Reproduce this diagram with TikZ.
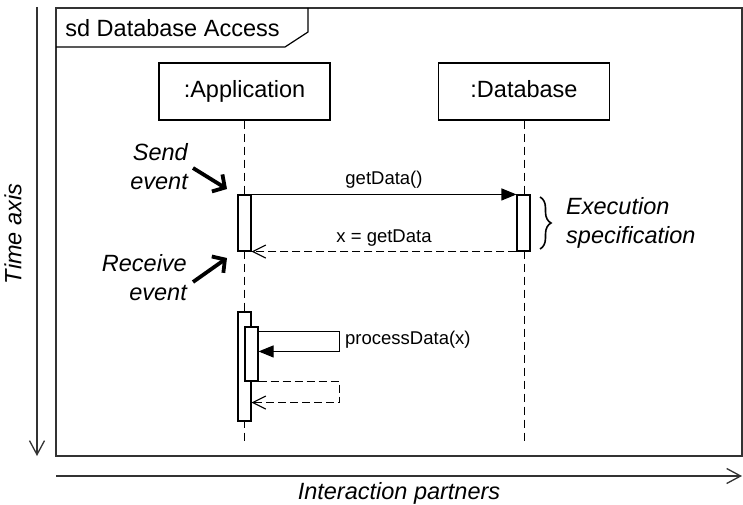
\documentclass[tikz,border=0pt]{standalone}
\usepackage{fontspec}
\setmainfont{Liberation Sans}
\usetikzlibrary{arrows.meta,decorations.pathreplacing}
\begin{document}
\begin{tikzpicture}[x=1pt,y=-1pt,
  big/.style={font=\fontsize{23.5}{28}\selectfont},
  small/.style={font=\fontsize{18.5}{22}\selectfont},
  lifebox/.style={draw, line width=1.1pt, minimum width=171pt, minimum height=57pt, inner sep=0pt, big, text height=17pt, text depth=5pt},
  lifeline/.style={line width=1pt, dash pattern=on 8pt off 5pt},
  actbar/.style={draw, fill=white, line width=1.1pt, minimum width=13pt, inner sep=0pt},
  sync/.style={line width=1.1pt, -{Triangle[length=15pt,width=12pt]}},
  reply/.style={line width=1.1pt, dash pattern=on 8pt off 4pt, -{Straight Barb[length=13pt,width=13pt]}},
  frm/.style={line width=1.8pt, black!80},
  axis/.style={line width=1.3pt, black!80, -{Straight Barb[length=14pt,width=15pt]}},
  evarrow/.style={line width=3.8pt, -{Straight Barb[length=9pt,width=20pt]}},
  note/.style={big, font=\fontsize{23.5}{29}\selectfont\itshape, inner sep=0pt}
]
\useasboundingbox (0,0) rectangle (743,505);

% frame
\draw[frm] (56,8) rectangle (742,456);
\draw[line width=1.2pt] (56,47) -- (285,47) -- (308,32) -- (308,8);
\node[big, inner sep=0pt] (title) at (172.5,28) {sd Database Access};

% axes
\coordinate (ttop) at (37,7);
\coordinate (tbot) at (37,456);
\draw[axis] (ttop) -- (tbot);
\node[note, rotate=90] (timelbl) at (13,234) {Time axis};
\coordinate (hl) at (56,476);
\coordinate (hr) at (742,476);
\draw[axis] (hl) -- (hr);
\node[note] (ilbl) at (399,493) {Interaction partners};

% lifelines
\node[lifebox] (app) at (244.5,91.5) {:Application};
\node[lifebox] (db) at (524,91.5) {:Database};
\coordinate (append) at (244.5,442);
\coordinate (dbend) at (524,442);
\draw[lifeline] (app.south) -- (append);
\draw[lifeline] (db.south) -- (dbend);

% activations
\node[actbar, minimum height=56pt] (a1) at (244.5,223) {};
\node[actbar, minimum height=56pt] (d1) at (523.5,223) {};
\node[actbar, minimum height=109pt] (a2) at (244.5,366.5) {};
\node[actbar, minimum height=54pt] (a3) at (251.5,354) {};

% messages
\draw[sync] (a1.north east) -- (d1.north west) node[midway, above, small, yshift=2pt] (m1) {getData()};
\draw[reply] (d1.south west) -- (a1.south east) node[midway, above, small, yshift=1pt] (m2) {x = getData};

\draw[sync] ([yshift=-5pt]a3.north east) -- ++(81,0) coordinate (sc1) -- ++(0,20) coordinate (sc2) -- ([yshift=-25pt]a3.north east);
\node[small, anchor=west, inner sep=0pt] (m3) at (345,340) {processData(x)};
\draw[reply] (a3.south east) -- ++(81,0) coordinate (rc1) -- ++(0,21) coordinate (rc2) -- (rc2 -| a2.east);

% execution specification
\draw[line width=1.6pt, decorate, decoration={brace, amplitude=11pt}] (540,197) -- (540,249);
\node[note, anchor=west, align=left] (exlbl) at (566,223) {Execution\\specification};

% events
\node[note, anchor=east, align=right] (sendlbl) at (188,167) {Send\\event};
\node[note, anchor=east, align=right] (recvlbl) at (187,278) {Receive\\event};
\coordinate (sendpt) at (227,189);
\coordinate (recvpt) at (227,258);
\coordinate (sendtail) at (193,168);
\coordinate (recvtail) at (193,282);
\draw[evarrow] (sendtail) -- (sendpt);
\draw[evarrow] (recvtail) -- (recvpt);
\end{tikzpicture}
\end{document}
